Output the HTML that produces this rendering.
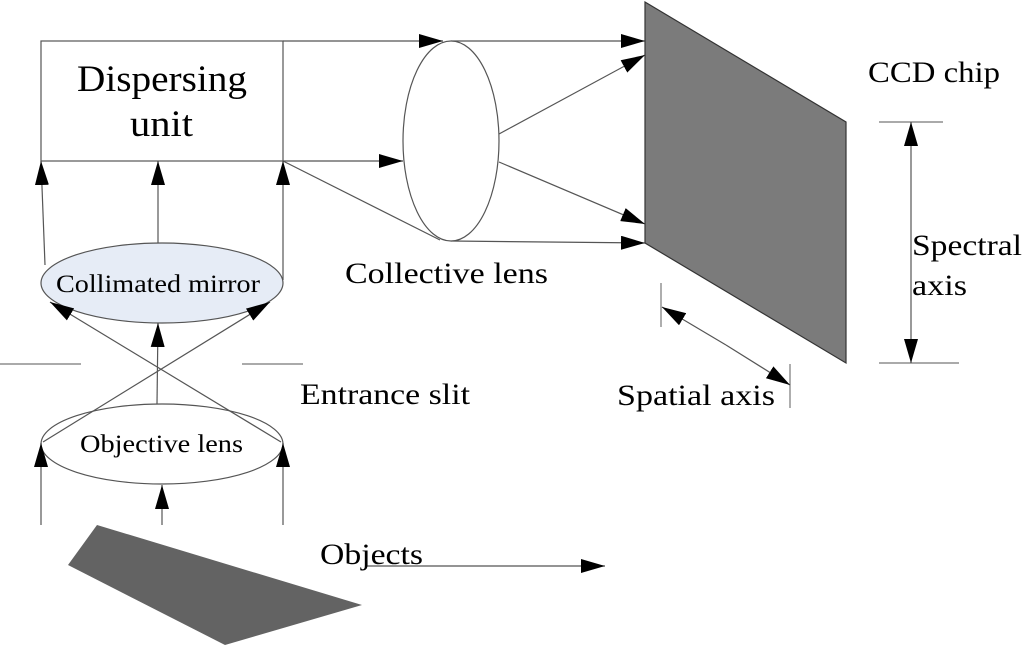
<!DOCTYPE html>
<html><head><meta charset="utf-8"><style>
html,body{margin:0;padding:0;background:#fff;}
svg{display:block;}
svg text{font-family:"Liberation Serif","Times New Roman",serif !important;fill:#000;}
</style></head><body>
<svg width="1024" height="647" viewBox="0 0 1024 647" xmlns="http://www.w3.org/2000/svg">
<defs>
<marker id="b" viewBox="0 0 24 14" markerWidth="24" markerHeight="14" refX="24" refY="7" orient="auto" markerUnits="userSpaceOnUse"><path d="M0,0 L24,7 L0,14 z" fill="#000"/></marker>
</defs>
<g stroke="#555" stroke-width="1.2" fill="none">
<rect x="41" y="41" width="242" height="120"/>
<line x1="283" y1="41" x2="443" y2="41" marker-end="url(#b)"/>
<line x1="451" y1="41" x2="645" y2="41" marker-end="url(#b)"/>
<line x1="283" y1="161" x2="403" y2="161" marker-end="url(#b)"/>
<line x1="283" y1="161" x2="440" y2="240"/>
<line x1="451" y1="241" x2="645" y2="243" marker-end="url(#b)"/>
<line x1="499" y1="134" x2="645" y2="55" marker-end="url(#b)"/>
<line x1="499" y1="162" x2="645" y2="224" marker-end="url(#b)"/>
<ellipse cx="451" cy="141" rx="48" ry="100" fill="#fff"/>
<line x1="45" y1="265" x2="41" y2="161" marker-end="url(#b)"/>
<line x1="158" y1="243" x2="158" y2="161" marker-end="url(#b)"/>
<line x1="283" y1="280" x2="283" y2="161" marker-end="url(#b)"/>
<ellipse cx="162" cy="283" rx="121" ry="40" fill="#e6ecf6"/>
<line x1="43" y1="442" x2="270" y2="302" marker-end="url(#b)"/>
<line x1="281" y1="442" x2="50" y2="302" marker-end="url(#b)"/>
<line x1="157" y1="404" x2="158" y2="323" marker-end="url(#b)"/>
<line x1="0" y1="364" x2="81" y2="364" stroke="#777"/>
<line x1="242" y1="364" x2="303" y2="364" stroke="#777"/>
<ellipse cx="162" cy="444" rx="121" ry="40"/>
<line x1="41" y1="525" x2="41" y2="443" marker-end="url(#b)"/>
<line x1="162" y1="525" x2="162" y2="485" marker-end="url(#b)"/>
<line x1="283" y1="525" x2="283" y2="443" marker-end="url(#b)"/>
<line x1="365" y1="566" x2="605" y2="566" marker-end="url(#b)"/>
<polygon points="645,2 846,122 846,363 645,243" fill="#7b7b7b" stroke="#333"/>
<line x1="879" y1="122" x2="943" y2="122" stroke="#777"/>
<line x1="879" y1="363" x2="959" y2="363" stroke="#777"/>
<line x1="911" y1="240" x2="911" y2="122" marker-end="url(#b)"/>
<line x1="911" y1="240" x2="911" y2="363" marker-end="url(#b)"/>
<line x1="661" y1="283" x2="661" y2="327" stroke="#777"/>
<line x1="790" y1="364" x2="790" y2="408" stroke="#777"/>
<line x1="726" y1="345" x2="662" y2="307" marker-end="url(#b)"/>
<line x1="726" y1="345" x2="790" y2="385" marker-end="url(#b)"/>
</g>
<polygon points="97,525 68,565 225,645 362,605" fill="#636363"/>
<g font-family="Liberation Serif, serif" lengthAdjust="spacingAndGlyphs">
<text x="77" y="91" font-size="37" textLength="170" lengthAdjust="spacingAndGlyphs">Dispersing</text>
<text x="130" y="136" font-size="37" textLength="63" lengthAdjust="spacingAndGlyphs">unit</text>
<text x="56" y="292" font-size="25" textLength="204" lengthAdjust="spacingAndGlyphs">Collimated mirror</text>
<text x="80" y="452" font-size="25" textLength="163" lengthAdjust="spacingAndGlyphs">Objective lens</text>
<text x="345" y="283" font-size="30" textLength="203" lengthAdjust="spacingAndGlyphs">Collective lens</text>
<text x="300" y="404" font-size="30" textLength="170" lengthAdjust="spacingAndGlyphs">Entrance slit</text>
<text x="320" y="564" font-size="30" textLength="103" lengthAdjust="spacingAndGlyphs">Objects</text>
<text x="617" y="405" font-size="30" textLength="158" lengthAdjust="spacingAndGlyphs">Spatial axis</text>
<text x="868" y="82" font-size="30" textLength="132" lengthAdjust="spacingAndGlyphs">CCD chip</text>
<text x="912" y="255" font-size="30" textLength="110" lengthAdjust="spacingAndGlyphs">Spectral</text>
<text x="912" y="295" font-size="30" textLength="55" lengthAdjust="spacingAndGlyphs">axis</text>
</g>
</svg>
</body></html>
